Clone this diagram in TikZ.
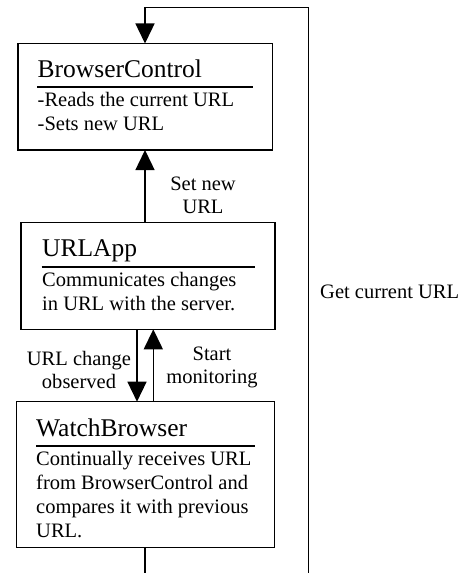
\documentclass[tikz,border=0pt]{standalone}
\usepackage{fontspec}
\setmainfont{Liberation Serif}
\usetikzlibrary{arrows.meta}
\begin{document}
\begin{tikzpicture}[x=1bp,y=-1bp,
  boxframe/.style={draw, line width=1.4bp, inner sep=0pt, outer sep=0pt, anchor=north west},
  titletext/.style={anchor=base west, inner sep=0pt, font=\fontsize{25.5bp}{30bp}\selectfont},
  bodytext/.style={anchor=base west, inner sep=0pt, font=\fontsize{20.5bp}{24bp}\selectfont},
  edgetext/.style={anchor=base, inner sep=0pt, font=\fontsize{20.5bp}{23bp}\selectfont},
  titlerule/.style={line width=2bp},
  flowarrow/.style={line width=1.4bp, -{Triangle[width=19bp,length=20bp]}}]

\clip (0,0) rectangle (469,573);

% module boxes
\node[boxframe, minimum width=254.5bp, minimum height=106.5bp] (bc) at (18,43.5) {};
\node[boxframe, minimum width=254bp, minimum height=107bp] (ua) at (21,222.3) {};
\node[boxframe, minimum width=258.5bp, minimum height=145.6bp] (wb) at (16.2,401.7) {};

% BrowserControl
\node[titletext] (bct) at (37.5,78) {BrowserControl};
\draw[titlerule] (37,86.7) -- (253,86.7);
\node[bodytext] (bcb) at (37.5,107) {\begin{tabular}[t]{@{}l@{}}-Reads the current URL\\-Sets new URL\end{tabular}};

% URLApp
\node[titletext] (uat) at (42,256) {URLApp};
\draw[titlerule] (41.7,266.7) -- (255,266.7);
\node[bodytext] (uab) at (42,286.7) {\begin{tabular}[t]{@{}l@{}}Communicates changes\\in URL with the server.\end{tabular}};

% WatchBrowser
\node[titletext] (wbt) at (36,436.7) {WatchBrowser};
\draw[titlerule] (36,445.7) -- (255,445.7);
\node[bodytext] (wbb) at (36,465) {\begin{tabular}[t]{@{}l@{}}Continually receives URL\\from BrowserControl and\\compares it with previous\\URL.\end{tabular}};

% connector guides
\coordinate (spine) at (145,0);
\coordinate (dn) at (137,0);
\coordinate (upx) at (153.3,0);
\coordinate (loopx) at (308.3,0);
\coordinate (loopTop) at (0,7.5);
\coordinate (loopBottom) at (0,600);

% connectors
\draw[flowarrow] (ua.north -| spine) -- (bc.south -| spine);
\draw[flowarrow] (ua.south -| dn) -- (wb.north -| dn);
\draw[flowarrow] (wb.north -| upx) -- (ua.south -| upx);
\draw[flowarrow] (wb.south -| spine) -- (spine |- loopBottom) -- (loopx |- loopBottom)
  -- (loopx |- loopTop) -- (spine |- loopTop) -- (bc.north -| spine);

% connector labels
\node[edgetext] (setlbl) at (203,190) {\begin{tabular}[t]{@{}c@{}}Set new\\URL\end{tabular}};
\node[edgetext] (chglbl) at (79,365) {\begin{tabular}[t]{@{}c@{}}URL change\\observed\end{tabular}};
\node[edgetext] (monlbl) at (212,360) {\begin{tabular}[t]{@{}c@{}}Start\\monitoring\end{tabular}};
\node[bodytext] (getlbl) at (320,298) {Get current URL};
\end{tikzpicture}
\end{document}
